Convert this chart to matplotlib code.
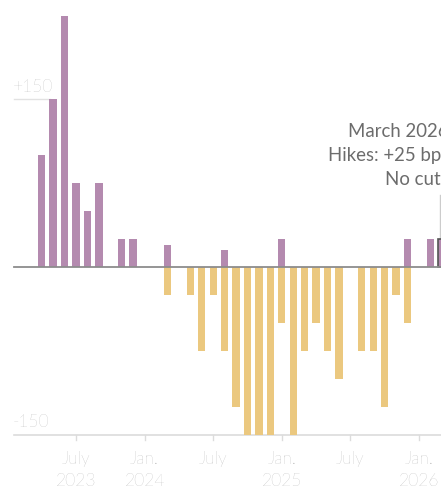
import numpy as np
import pandas as pd
import matplotlib
matplotlib.use("Agg")
import matplotlib.pyplot as plt

plt.rcParams['font.family'] = ['Lato', 'DejaVu Sans']

months = pd.period_range("2023-04", "2026-03", freq="M")
hikes = [100, 150, 225, 75, 50, 75, 0, 25, 25, 0, 0, 20,
         0, 0, 0, 0, 15, 0, 0, 0, 0, 25, 0, 0,
         0, 0, 0, 0, 0, 0, 0, 0, 25, 0, 25, 25]
cuts = [0, 0, 0, 0, 0, 0, 0, 0, 0, 0, 0, -25,
        0, -25, -75, -25, -75, -125, -150, -150, -150, -50, -150, -75,
        -50, -75, -100, 0, -75, -75, -125, -25, -50, 0, 0, 0]
tick_months = ["2023-07", "2024-01", "2024-07", "2025-01", "2025-07", "2026-01"]
tick_labels = ["July\n2023", "Jan.\n2024", "July", "Jan.\n2025", "July", "Jan.\n2026"]

def midx(p):
    p = pd.Period(p, freq="M")
    return (p.year - 2023) * 12 + p.month - 1

x = np.array([midx(m) for m in months])
hikes = np.array(hikes)
cuts = np.array(cuts)

purple = "#b48aaf"
yellow = "#ebc87f"
grey_txt = "#a0a0a0"

W, H = 441, 488
fig = plt.figure(figsize=(W / 100, H / 100), dpi=100)
ax = fig.add_axes([0, 0, 1, 1])

# pixel -> data mapping
px_per_month = 11.43
px_per_unit = 1.117
x0_px, y0_px = 76, 267  # July 2023, zero line
ax.set_xlim(6 - x0_px / px_per_month, 6 + (W - x0_px) / px_per_month)
ax.set_ylim(-(H - y0_px) / px_per_unit, y0_px / px_per_unit)
ax.axis("off")

def xd(px):
    return 6 + (px - x0_px) / px_per_month

def yd(px):
    return (y0_px - px) / px_per_unit

left = xd(14)
right = ax.get_xlim()[1]

# grid / base lines
ax.plot([left, xd(50)], [150, 150], color="#e2e2e2", lw=1, zorder=0)
ax.plot([left, right], [-150, -150], color="#dcdcdc", lw=1.2, zorder=0)
for tm in tick_months:
    ax.plot([midx(tm)] * 2, [-150, -155], color="#dcdcdc", lw=1, zorder=0)

w = 0.64
mask_h = hikes > 0
mask_c = cuts < 0
last = x == x.max()
ax.bar(x[mask_h & ~last], hikes[mask_h & ~last], width=w, color=purple, zorder=2)
ax.bar(x[mask_c], cuts[mask_c], width=w, color=yellow, zorder=2)
ax.bar(x[last], hikes[last], width=w, color=purple, edgecolor="#555555", lw=1.2, zorder=3)

ax.plot([left, right], [0, 0], color="#8c8c8c", lw=1.3, zorder=4)

# y labels
ax.text(xd(13), yd(87), "+150", color=grey_txt, fontsize=12.5, fontweight="light",
        ha="left", va="center")
ax.text(xd(13), yd(422), "-150", color=grey_txt, fontsize=12.5, fontweight="light",
        ha="left", va="center")

# x tick labels
for tm, lab in zip(tick_months, tick_labels):
    lines = lab.split("\n")
    ax.text(midx(tm), yd(459), lines[0], color=grey_txt, fontsize=12.5,
            fontweight="light", ha="center", va="center")
    if len(lines) > 1:
        ax.text(midx(tm), yd(481), lines[1], color=grey_txt, fontsize=12.5,
                fontweight="light", ha="center", va="center")

# annotation (cut off at the right edge, as in the original)
ann_x = xd(449)
for txt, ypx in [("March 2026", 137), ("Hikes: +25 bps", 161), ("No cuts", 185)]:
    ax.text(ann_x, yd(ypx), txt, color="#6c6c6c", fontsize=13.4, fontweight="normal",
            ha="right", va="baseline")
ax.plot([xd(440.5)] * 2, [yd(195), yd(238)], color="#cccccc", lw=1, zorder=1)

fig.savefig("out.png", dpi=100)
